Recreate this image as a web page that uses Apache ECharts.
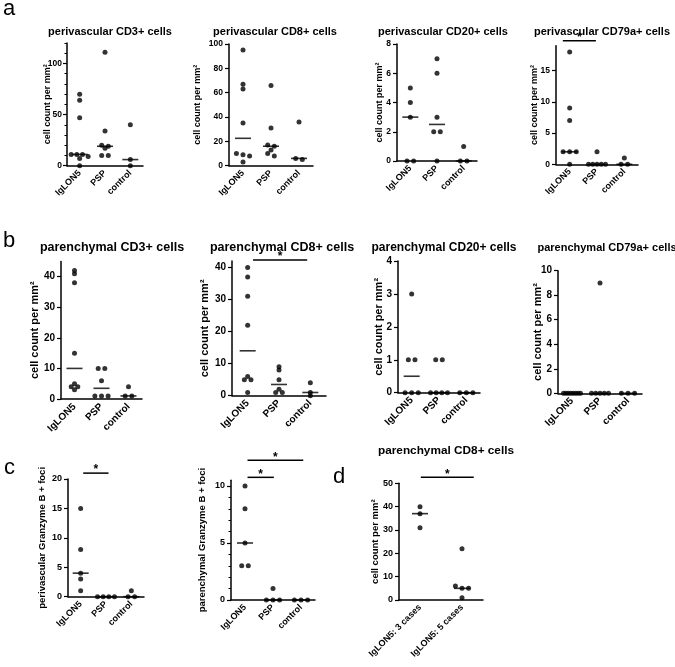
<!DOCTYPE html>
<html><head><meta charset="utf-8">
<script src="https://cdn.jsdelivr.net/npm/echarts@6/dist/echarts.min.js"></script>
<style>html,body{margin:0;padding:0;background:#fff}#c{width:675px;height:667px}</style>
</head><body><div id="c"></div><script>
// ---------- data ----------
const groups = ['IgLON5', 'PSP', 'control'];
const groupsD = ['IgLON5: 3 cases', 'IgLON5: 5 cases'];

const pvCD3   = [[70, 64, 47, 11, 11, 11, 9, 7, 0], [111, 34, 20, 19, 17, 10, 10], [40, 6, 0]];
const pvCD8   = [[95, 67, 63, 35, 10, 9, 8, 3], [66, 31, 17, 16, 13, 10, 8], [36, 6, 5]];
const pvCD20  = [[5, 4, 3, 0, 0], [7, 6, 3, 2, 2, 0], [1, 0, 0]];
const pvCD79a = [[18, 9, 7, 2, 2, 2, 0], [2, 0, 0, 0, 0, 0], [1, 0, 0]];
const paCD3   = [[42, 41, 38, 15, 5, 4, 4, 3], [10, 10, 6, 1, 1, 1], [4, 1, 1]];
const paCD8   = [[40, 37, 31, 22, 6, 5, 5, 1], [9, 8, 5, 2, 1, 1], [4, 1, 0]];
const paCD20  = [[3, 1, 1, 0, 0, 0], [1, 1, 0, 0, 0, 0], [0, 0, 0]];
const paCD79a = [[0, 0, 0, 0, 0, 0, 0, 0], [9, 0, 0, 0, 0, 0], [0, 0, 0]];
const pvGzmB  = [[15, 8, 4, 3, 1], [0, 0, 0, 0], [1, 0, 0]];
const paGzmB  = [[10, 8, 5, 3, 3], [1, 0, 0, 0], [0, 0, 0]];
const paCD8cases = [[40, 37, 31], [22, 6, 5, 5, 1]];

// ---------- layout ----------
const FF = '"Liberation Sans", Arial, sans-serif';
const YN = 'cell count per mm²';
const range = (a, b, s) => { const r = []; for (let v = a; v <= b + 1e-9; v += s) r.push(v); return r; };
const panels = [
  {d: pvCD3, cats: groups, title: 'perivascular CD3+ cells', tx: 105, ty: 21, tf: 11, l: 67, t: 43, w: 76, h: 122.7, max: 120, iv: 50, ticks: [0, 50, 100], minorTicks: range(0, 120, 10), ng: 14.5, lm: 5, yn: YN, yf: 9, lf: 8.5, xf: 9},
  {d: pvCD8, cats: groups, title: 'perivascular CD8+ cells', tx: 270, ty: 21, tf: 11, l: 229, t: 44, w: 84, h: 121.7, max: 100, iv: 20, ticks: [0, 20, 40, 60, 80, 100], ng: 27, yn: YN, yf: 9, lf: 8.5, xf: 9},
  {d: pvCD20, cats: groups, title: 'perivascular CD20+ cells', tx: 438, ty: 21, tf: 11, l: 397, t: 44, w: 80, h: 117, max: 8, iv: 2, ticks: [0, 2, 4, 6, 8], ng: 13, yn: YN, yf: 9, lf: 8.5, xf: 9},
  {d: pvCD79a, cats: groups, title: 'perivascular CD79a+ cells', tx: 597, ty: 21, tf: 11, l: 556, t: 45.7, w: 82, h: 118.6, max: 19, iv: 5, ticks: [0, 5, 10, 15], ng: 17, yn: YN, yf: 9, lf: 8.5, xf: 9,
   sig: [[0, 19.8, -0.25, 0.96]]},
  {d: paCD3, cats: groups, title: 'parenchymal CD3+ cells', tx: 107, ty: 236, tf: 12.5, l: 61, t: 261.4, w: 81, h: 137.6, max: 45, iv: 10, ticks: [0, 10, 20, 30, 40], ng: 21, yn: YN, yf: 11, lf: 10, xf: 10},
  {d: paCD8, cats: groups, title: 'parenchymal CD8+ cells', tx: 277, ty: 236, tf: 12.5, l: 232, t: 261, w: 94, h: 134.7, max: 42, iv: 10, ticks: [0, 10, 20, 30, 40], ng: 22, yn: YN, yf: 11, lf: 10, xf: 10,
   sig: [[0, 42.3, 0.17, 1.9]]},
  {d: paCD20, cats: groups, title: 'parenchymal CD20+ cells', tx: 439, ty: 236.5, tf: 12, l: 398, t: 261, w: 82, h: 131.7, max: 4, iv: 1, ticks: [0, 1, 2, 3, 4], ng: 14, yn: YN, yf: 11, lf: 10, xf: 10},
  {d: paCD79a, cats: groups, title: 'parenchymal CD79a+ cells', tx: 602, ty: 237.5, tf: 11, l: 558, t: 270.7, w: 84, h: 122.6, max: 10, iv: 2, ticks: [0, 2, 4, 6, 8, 10], ng: 15, yn: YN, yf: 11, lf: 10, xf: 10},
  {d: pvGzmB, cats: groups, l: 68, t: 479, w: 76, h: 117.7, max: 20, iv: 5, ticks: [0, 5, 10, 15, 20], ng: 21, yn: 'perivascular Granzyme B + foci', yf: 9.5, lf: 9, xf: 9,
   sig: [[0, 21.0, 0.1, 1.1]]},
  {d: paGzmB, cats: groups, l: 231, t: 480.3, w: 84, h: 119.7, max: 10.5, iv: 5, ticks: [0, 5, 10], minorTicks: range(0, 10, 1), ng: 24, yn: 'parenchymal Granzyme B + foci', yf: 9.5, lf: 9, xf: 9,
   sig: [[0, 10.76, 0.09, 1.03], [0, 12.25, 0.09, 2.08]]},
  {d: paCD8cases, cats: groupsD, title: 'parenchymal CD8+ cells', tx: 441, ty: 439.5, tf: 11.8, l: 399, t: 483.3, w: 84, h: 116.7, max: 50, iv: 10, ticks: [0, 10, 20, 30, 40, 50], ng: 19, yn: YN, yf: 9.5, lf: 9, xf: 9,
   sig: [[0, 52.6, 0.02, 1.28]]}
];

function median(a) {
  const s = a.slice().sort((x, y) => x - y), n = s.length;
  return n % 2 ? s[(n - 1) / 2] : (s[n / 2 - 1] + s[n / 2]) / 2;
}
// simple beeswarm: values that fall within a dot's height are spread symmetrically
function jitter(values, pxPerUnit) {
  const idx = values.map((v, i) => i).sort((a, b) => values[b] - values[a]);
  const offs = new Array(values.length).fill(0);
  let row = [];
  const flush = () => {
    const n = row.length;
    const sp = n > 1 ? Math.min(6.6, 17 / (n - 1)) : 0;
    row.forEach((k, j) => { offs[k] = (j - (n - 1) / 2) * sp; });
    row = [];
  };
  idx.forEach(k => {
    if (row.length && (values[row[0]] - values[k]) * pxPerUnit > 2.8) flush();
    row.push(k);
  });
  flush();
  return offs;
}

const option = {animation: false, title: [], grid: [], xAxis: [], yAxis: [], series: [], graphic: []};

panels.forEach((p, i) => {
  option.grid.push({left: p.l, top: p.t, width: p.w, height: p.h});
  option.xAxis.push({
    type: 'category', gridIndex: i, data: p.cats, boundaryGap: true,
    axisLine: {lineStyle: {color: '#000', width: 1.5}},
    axisTick: {alignWithLabel: true, length: 4, lineStyle: {color: '#000', width: 1.2}},
    axisLabel: {rotate: 45, interval: 0, margin: 6, color: '#000', fontWeight: 'bold', fontSize: p.xf, fontFamily: FF},
    splitLine: {show: false}
  });
  option.yAxis.push({
    type: 'value', gridIndex: i, min: 0, max: p.max, interval: p.iv,
    name: p.yn, nameLocation: 'middle', nameGap: p.ng, nameMoveOverlap: false,
    nameTextStyle: {color: '#000', fontWeight: 'bold', fontSize: p.yf, fontFamily: FF},
    axisLine: {show: true, lineStyle: {color: '#000', width: 1.5}},
    axisTick: {show: true, length: 4, lineStyle: {color: '#000', width: 1.2}, customValues: p.ticks},
    axisLabel: {color: '#000', fontWeight: 'bold', fontSize: p.lf, fontFamily: FF, margin: p.lm || 6, customValues: p.ticks},
    splitLine: {show: false}
  });
  if (p.tx !== undefined) option.title.push({text: p.title, left: p.tx, top: p.ty, textAlign: 'center',
    textStyle: {fontSize: p.tf, fontWeight: 'bold', color: '#000', fontFamily: FF}});

  const ppu = p.h / p.max;
  const pts = [];
  const meds = [];
  p.d.forEach((vals, g) => {
    const off = jitter(vals, ppu);
    vals.forEach((v, k) => pts.push({value: [g, v], symbolOffset: [off[k], 0]}));
    meds.push([g, median(vals)]);
  });
  option.series.push({type: 'scatter', xAxisIndex: i, yAxisIndex: i, data: meds, symbol: 'rect',
    symbolSize: [16, 1.6], itemStyle: {color: '#000'}, silent: true, z: 2});
  option.series.push({type: 'scatter', xAxisIndex: i, yAxisIndex: i, data: pts, symbol: 'circle',
    symbolSize: 5, itemStyle: {color: '#000'}, silent: true, z: 3});
  if (p.sig) option.series.push({
    type: 'custom', xAxisIndex: i, yAxisIndex: i, clip: false, silent: true, data: p.sig,
    encode: {x: 0, y: 1},
    renderItem: (params, api) => {
      const c = api.coord([api.value(0), api.value(1)]);
      const bw = api.size([1, 0])[0];
      const xa = c[0] + api.value(2) * bw, xb = c[0] + api.value(3) * bw;
      return {type: 'group', children: [
        {type: 'line', shape: {x1: xa, y1: c[1], x2: xb, y2: c[1]}, style: {stroke: '#000', lineWidth: 1.5}},
        {type: 'text', style: {text: '*', x: (xa + xb) / 2, y: c[1] + 3, align: 'center', verticalAlign: 'bottom',
          font: 'bold 12px ' + FF, fill: '#000'}}
      ]};
    }
  });
});

// extra tick-only axes for the minor tick rulers
panels.forEach((p, i) => {
  if (!p.minorTicks) return;
  option.yAxis.push({
    type: 'value', gridIndex: i, min: 0, max: p.max, position: 'left', offset: 0,
    axisLine: {show: false}, axisLabel: {show: false}, splitLine: {show: false},
    axisTick: {show: true, length: 2.5, lineStyle: {color: '#000', width: 1}, customValues: p.minorTicks}
  });
});

[['a', 3, 9.5], ['b', 3, 242], ['c', 4, 469], ['d', 333, 478]].forEach(([t, x, yy]) => {
  option.graphic.push({type: 'text', left: x, top: yy - 12, style: {text: t, font: '22px ' + FF, fill: '#000'}});
});

const chart = echarts.init(document.getElementById('c'), null, {renderer: 'canvas'});
chart.setOption(option);
</script></body></html>
